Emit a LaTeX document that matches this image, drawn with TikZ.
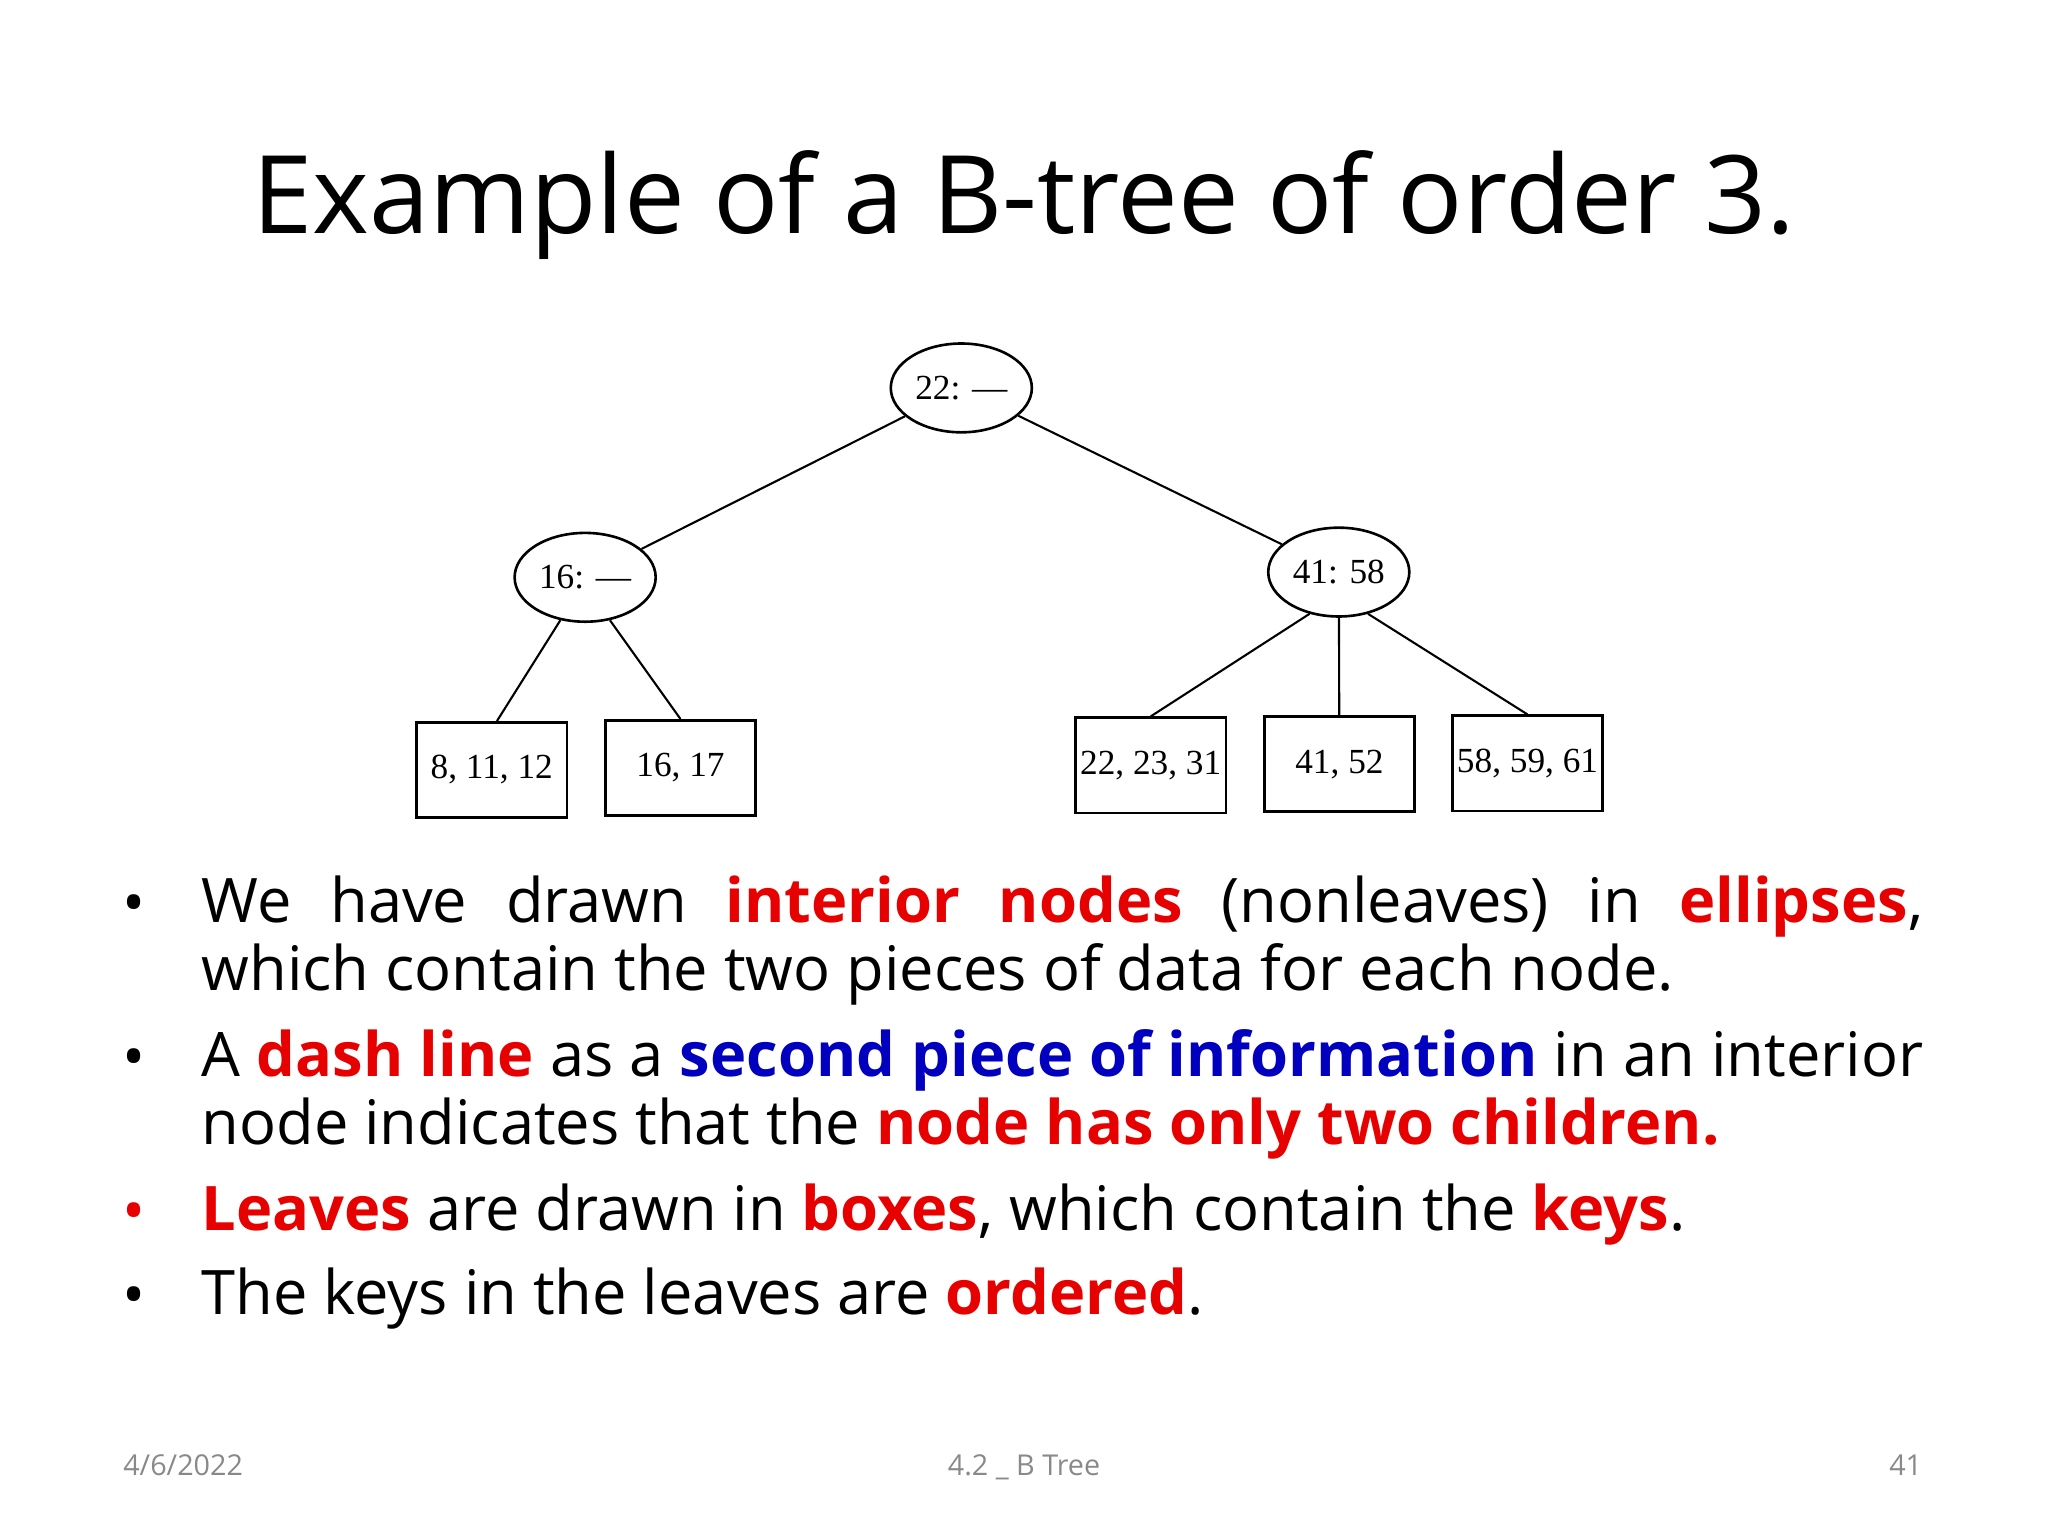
\documentclass[tikz,border=0pt]{standalone}
\usepackage{fontspec}
\setmainfont{Open Sans}
\newfontfamily\treefont{Liberation Serif}
\usetikzlibrary{shapes.geometric}
\definecolor{hred}{RGB}{230,0,0}
\definecolor{hblue}{RGB}{0,0,190}
\definecolor{foot}{RGB}{137,137,137}
\newcommand{\hlr}[1]{\textcolor{hred}{\bfseries #1}}
\newcommand{\hlb}[1]{\textcolor{hblue}{\bfseries #1}}
\tikzset{
 inode/.style={ellipse,draw,line width=1pt,minimum width=54pt,minimum height=34pt,inner sep=0pt,font=\treefont\fontsize{13.5}{15}\selectfont},
 leaf/.style={rectangle,draw,line width=1pt,minimum width=57.5pt,minimum height=36.5pt,inner sep=0pt,font=\treefont\fontsize{13.5}{15}\selectfont},
 edge/.style={line width=0.8pt},
 bul/.style={anchor=north west,inner sep=0pt,text width=659pt,align=justify,font=\fontsize{23.5}{26}\selectfont},
 dot/.style={anchor=base,inner sep=0pt,font=\fontsize{23.5}{26}\selectfont},
 ft/.style={text=foot,inner sep=0pt,anchor=base,font=\fontsize{11}{13}\selectfont}
}
\begin{document}
\begin{tikzpicture}[x=0.5pt,y=-0.5pt]
\useasboundingbox (0,0) rectangle (1568,1176);
\node[inner sep=0pt,anchor=base,font=\fontsize{41.5}{50}\selectfont] (title) at (784,179) {Example of a B-tree of order 3.};
\node[inode] (r) at (736,297) {22: —};
\node[inode] (a) at (448,442) {16: —};
\node[inode] (b) at (1025,438) {41: 58};
\node[leaf] (l1) at (376.5,589.5) {8, 11, 12};
\node[leaf] (l2) at (521,588) {16, 17};
\node[leaf] (l3) at (881,586) {22, 23, 31};
\node[leaf] (l4) at (1025.5,585) {41, 52};
\node[leaf] (l5) at (1169.5,584.5) {58, 59, 61};
\draw[edge] (r) -- (a);
\draw[edge] (r) -- (b);
\draw[edge] (a.240) -- ([xshift=2pt]l1.north);
\draw[edge] (a.300) -- ([xshift=0pt]l2.north);
\draw[edge] (b.235) -- (l3.north);
\draw[edge] (b) -- (l4);
\draw[edge] (b.305) -- (l5.north);
\node[bul] (p1) at (154,670) {We have drawn \hlr{interior nodes} (nonleaves) in \hlr{ellipses},\linebreak which contain the two pieces of data for each node.};
\node[bul] (p2) at (154,788) {A \hlr{dash line} as a \hlb{second piece of information} in an interior\linebreak node indicates that the \hlr{node has only two children.}};
\node[bul] (p3) at (154,906) {\hlr{Leaves} are drawn in \hlr{boxes}, which contain the \hlr{keys}.};
\node[bul] (p4) at (154,970) {The keys in the leaves are \hlr{ordered}.};
\node[dot] (d1) at (103,708) {•};
\node[dot] (d2) at (103,826) {•};
\node[dot,text=hred] (d3) at (103,944) {•};
\node[dot] (d4) at (103,1008) {•};
\node[ft,anchor=base west] (f1) at (94,1130) {4/6/2022};
\node[ft] (f2) at (784,1130) {4.2 \_ B Tree};
\node[ft,anchor=base east] (f3) at (1472,1130) {41};
\end{tikzpicture}
\end{document}
